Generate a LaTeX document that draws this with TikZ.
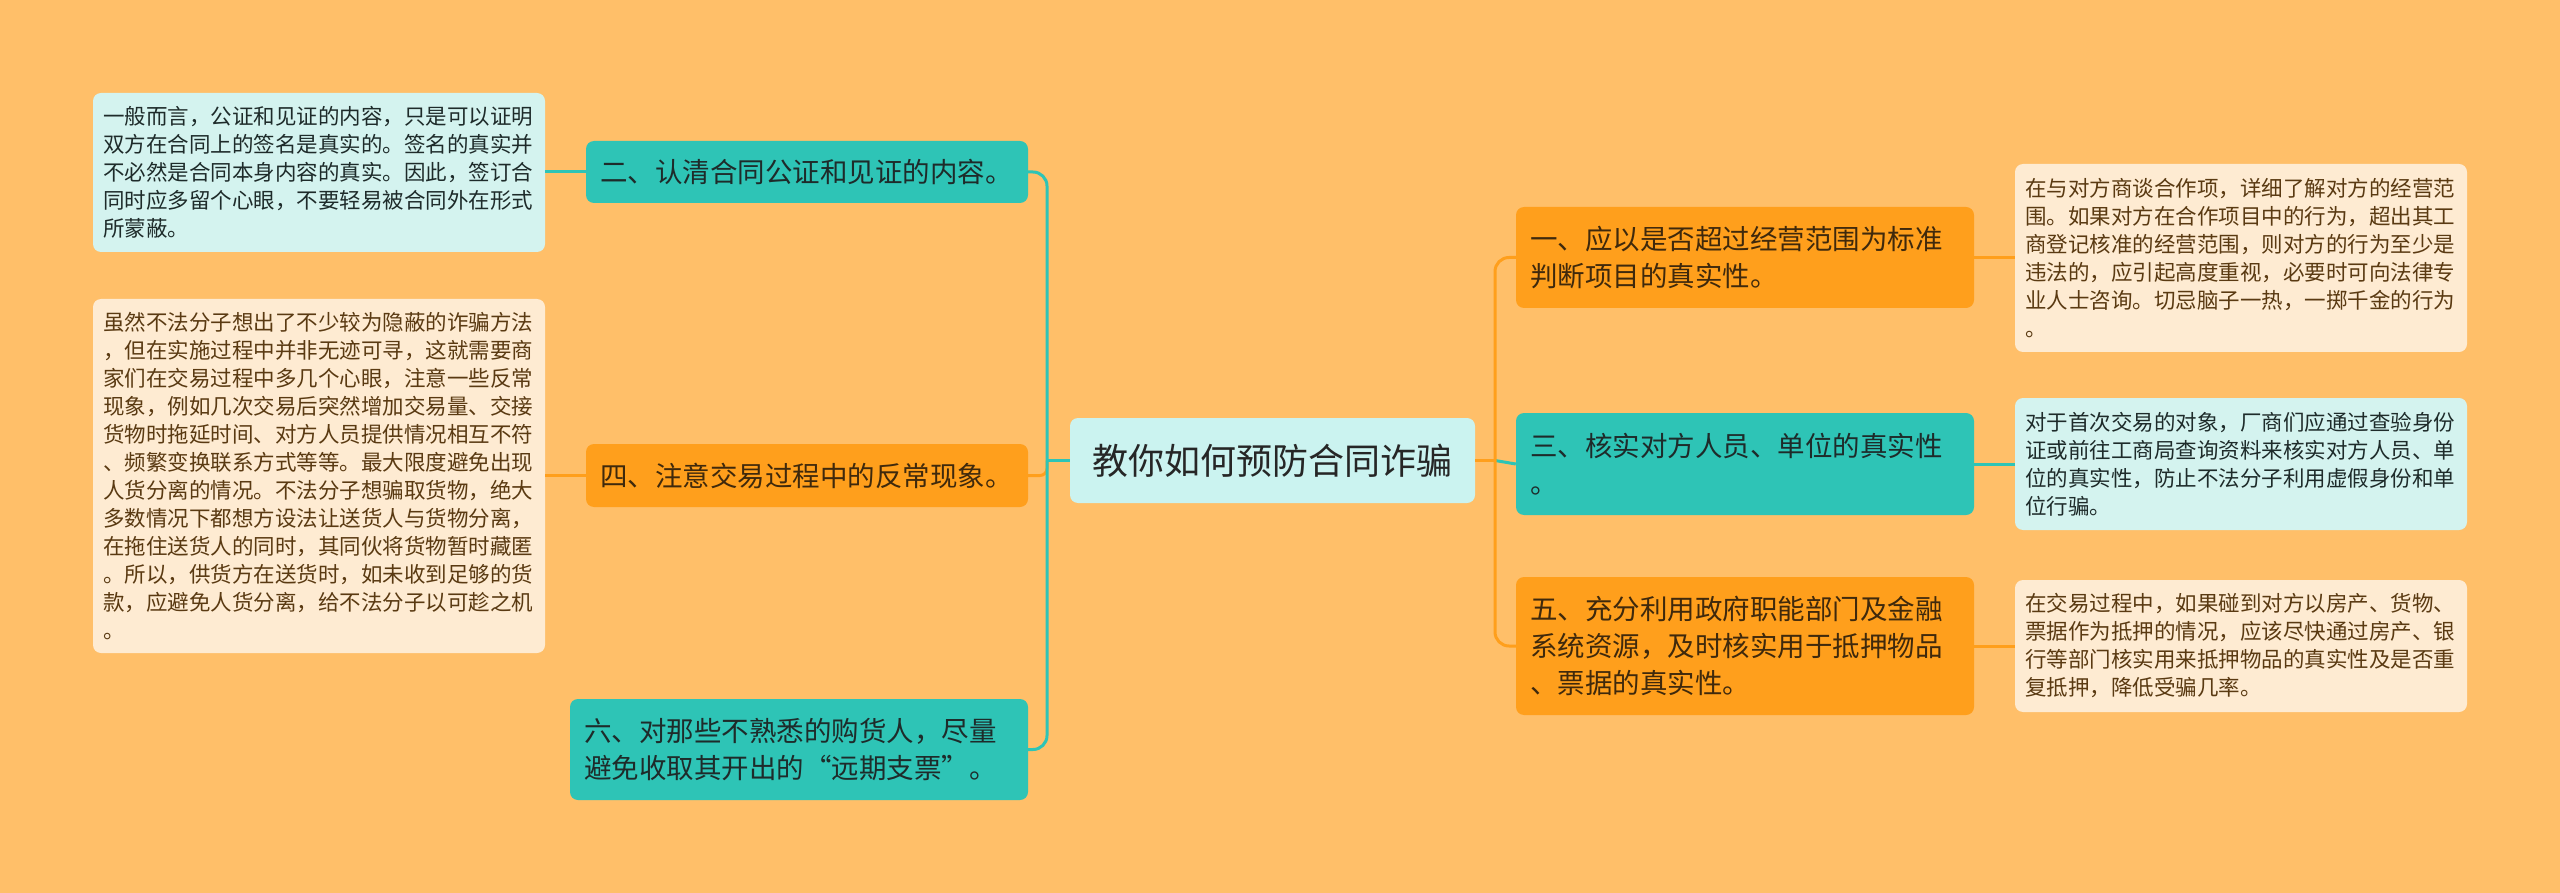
\documentclass[tikz,border=0pt]{standalone}
\usepackage{fontspec}
\setmainfont{Noto Sans CJK SC}
\definecolor{bg}{HTML}{FFBF69}
\definecolor{tealc}{HTML}{2EC4B6}
\definecolor{orangec}{HTML}{FF9F1C}
\definecolor{rootc}{HTML}{CBF3F0}
\definecolor{leafcyan}{HTML}{D4F3EF}
\definecolor{leafcream}{HTML}{FEEBD2}
\definecolor{darktext}{HTML}{1E2B2A}
\definecolor{browntext}{HTML}{5A3A12}
\tikzset{
  leafbox/.style={rounded corners=8pt, inner xsep=10pt, inner ysep=0pt, text width=432pt,
    minimum height=#1, align=left, font=\fontsize{21.5}{28}\selectfont},
  leafcy/.style={leafbox=#1, fill=leafcyan, text=darktext},
  leafcr/.style={leafbox=#1, fill=leafcream, text=browntext},
  branchbox/.style={rounded corners=8pt, inner xsep=14pt, inner ysep=0pt,
    minimum height=#1, align=left, font=\fontsize{27.5}{37}\selectfont},
  brteal/.style={branchbox=#1, fill=tealc, text=darktext},
  brorange/.style={branchbox=#1, fill=orangec, text=browntext!70!black},
  conn/.style={line width=3pt},
}
\begin{document}
\begin{tikzpicture}[x=1pt,y=-1pt]
\useasboundingbox (0,0) rectangle (2560,893);
\fill[bg] (0,0) rectangle (2560,893);

% root
\node[rounded corners=8pt, fill=rootc, text=black!85, minimum width=405pt, minimum height=85pt,
  inner sep=0pt, font=\fontsize{36}{44}\selectfont] (root) at (1272.5,460.5) {教你如何预防合同诈骗};

% left branches
\node[brteal=62pt, text width=414pt] (n2) at (807,172) {二、认清合同公证和见证的内容。};
\node[brorange=63pt, text width=414pt] (n4) at (807,475.5) {四、注意交易过程中的反常现象。};
\node[brteal=101pt, text width=430pt] (n6) at (799,749.5) {六、对那些不熟悉的购货人，尽量\\避免收取其开出的“远期支票”。};

% right branches
\node[brorange=101pt, text width=430pt] (n1) at (1745,257.5) {一、应以是否超过经营范围为标准\\判断项目的真实性。};
\node[brteal=102pt, text width=430pt] (n3) at (1745,464) {三、核实对方人员、单位的真实性\\。};
\node[brorange=138pt, text width=430pt] (n5) at (1745,646) {五、充分利用政府职能部门及金融\\系统资源，及时核实用于抵押物品\\、票据的真实性。};

% left leaves
\node[leafcy=159pt] (l2) at (319,172.5) {一般而言，公证和见证的内容，只是可以证明\\双方在合同上的签名是真实的。签名的真实并\\不必然是合同本身内容的真实。因此，签订合\\同时应多留个心眼，不要轻易被合同外在形式\\所蒙蔽。};
\node[leafcr=354pt] (l4) at (319,476) {虽然不法分子想出了不少较为隐蔽的诈骗方法\\，但在实施过程中并非无迹可寻，这就需要商\\家们在交易过程中多几个心眼，注意一些反常\\现象，例如几次交易后突然增加交易量、交接\\货物时拖延时间、对方人员提供情况相互不符\\、频繁变换联系方式等等。最大限度避免出现\\人货分离的情况。不法分子想骗取货物，绝大\\多数情况下都想方设法让送货人与货物分离，\\在拖住送货人的同时，其同伙将货物暂时藏匿\\。所以，供货方在送货时，如未收到足够的货\\款，应避免人货分离，给不法分子以可趁之机\\。};

% right leaves
\node[leafcr=188pt] (l1) at (2241,258) {在与对方商谈合作项，详细了解对方的经营范\\围。如果对方在合作项目中的行为，超出其工\\商登记核准的经营范围，则对方的行为至少是\\违法的，应引起高度重视，必要时可向法律专\\业人士咨询。切忌脑子一热，一掷千金的行为\\。};
\node[leafcy=132pt] (l3) at (2241,464) {对于首次交易的对象，厂商们应通过查验身份\\证或前往工商局查询资料来核实对方人员、单\\位的真实性，防止不法分子利用虚假身份和单\\位行骗。};
\node[leafcr=132pt] (l5) at (2241,646) {在交易过程中，如果碰到对方以房产、货物、\\票据作为抵押的情况，应该尽快通过房产、银\\行等部门核实用来抵押物品的真实性及是否重\\复抵押，降低受骗几率。};

% trunk points
\coordinate (LT) at (1047,460.5);
\coordinate (RT) at (1495,460.5);

% left connectors
\draw[conn, orangec, rounded corners=7pt] (LT) |- (n4.east);
\draw[conn, tealc, rounded corners=14pt] (n2.east) -| (LT) |- (n6.east);
\draw[conn, tealc] (root.west) -- (LT);
\draw[conn, tealc] (n2.west) -- (l2.east |- n2.west);
\draw[conn, orangec] (n4.west) -- (l4.east |- n4.west);

% right connectors
\draw[conn, tealc] (RT) -- (n3.west);
\draw[conn, orangec, rounded corners=14pt] (n1.west) -| (RT) |- (n5.west);
\draw[conn, orangec] (root.east) -- (RT);
\draw[conn, orangec] (n1.east) -- (l1.west |- n1.east);
\draw[conn, tealc] (n3.east) -- (l3.west |- n3.east);
\draw[conn, orangec] (n5.east) -- (l5.west |- n5.east);
\end{tikzpicture}
\end{document}
